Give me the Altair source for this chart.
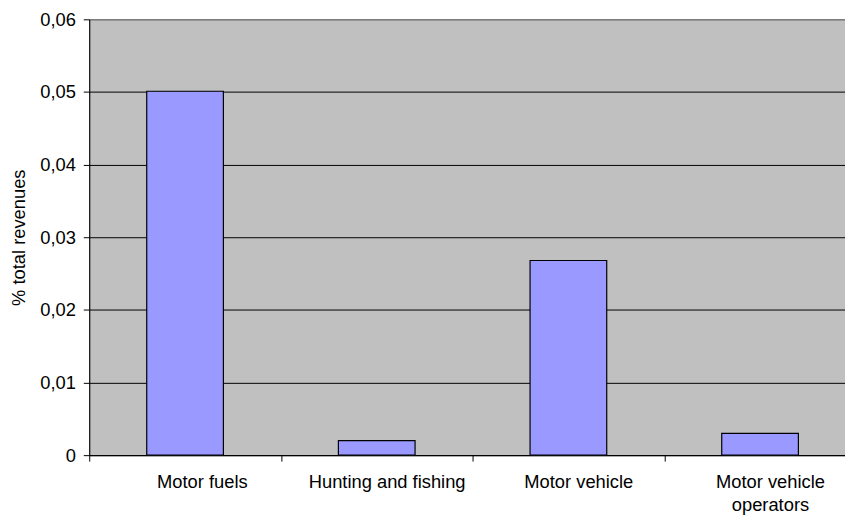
import altair as alt
import pandas as pd

categories = ["Motor fuels", "Hunting and fishing", "Motor vehicle", "Motor vehicle operators"]
values = [0.0501, 0.0020, 0.0268, 0.0030]
y_ticks = [0, 0.01, 0.02, 0.03, 0.04, 0.05, 0.06]

df = pd.DataFrame({"category": categories, "value": values})

FONT = "Liberation Sans"
FS = 18.5

chart = alt.Chart(df).mark_bar(
    color="#9999FF", stroke="black", strokeWidth=1.2,
    width=alt.RelativeBandSize(0.4)
).encode(
    x=alt.X("category:N", sort=categories,
            scale=alt.Scale(range=[0, 774], paddingInner=0, paddingOuter=0),
            axis=alt.Axis(title=None, labelAngle=0, tickBand="extent",
                          tickSize=6, tickColor="black", domainColor="black",
                          labelFont=FONT, labelFontSize=FS, labelColor="black",
                          labelPadding=12, labelLineHeight=23, labelLimit=300,
                          labelOffset={"condition": {"test": "datum.label == 'Motor fuels'", "value": 17}, "value": 10},
                          labelExpr="datum.label == 'Motor vehicle operators' ? ['Motor vehicle', 'operators'] : datum.label")),
    y=alt.Y("value:Q", scale=alt.Scale(domain=[0, 0.06], nice=False),
            axis=alt.Axis(title="% total revenues", values=y_ticks,
                          labelExpr="datum.value == 0 ? '0' : replace(format(datum.value, '.2f'), '.', ',')",
                          grid=True, gridColor={"condition": {"test": "datum.value >= 0.059", "value": "#707070"}, "value": "black"},
                          gridWidth=1,
                          tickSize=6, tickColor="black", domainColor="black",
                          labelFont=FONT, labelFontSize=FS, labelColor="black", labelPadding=8,
                          titleFont=FONT, titleFontSize=FS, titleFontWeight="normal", titleColor="black",
                          titlePadding=11))
).properties(
    width=763, height=440,
    autosize=alt.AutoSizeParams(type="none"),
    padding={"left": 82, "top": 9, "right": 0, "bottom": 59},
    background="white"
).configure_view(
    fill="#C0C0C0", stroke="#707070", strokeWidth=1
)

chart.save("out.html", embed_options={"renderer": "svg", "actions": False})
